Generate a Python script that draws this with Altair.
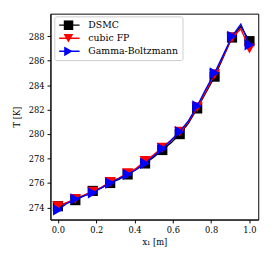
import altair as alt
import pandas as pd

series = ["DSMC", "cubic FP", "Gamma-Boltzmann"]
codes = ["s0", "s1", "s2"]
colors = ["#000000", "#ff0000", "#0000ff"]
shapes = ["square", "triangle-down", "triangle-right"]

x_pos = [0.0, 0.045, 0.091, 0.136, 0.182, 0.227, 0.273, 0.318, 0.364, 0.409, 0.455, 0.5,
         0.545, 0.591, 0.636, 0.682, 0.727, 0.773, 0.818, 0.864, 0.909, 0.955, 1.0]

T_dsmc = [274.1, 274.35, 274.6, 274.95, 275.35, 275.6, 276.0, 276.3, 276.7, 277.1, 277.6, 278.1,
          278.7, 279.3, 280.0, 280.9, 282.1, 283.4, 284.7, 286.3, 287.9, 288.8, 287.6]
T_fp = [274.1, 274.4, 274.7, 275.0, 275.3, 275.65, 276.1, 276.4, 276.8, 277.2, 277.8, 278.3,
        278.9, 279.5, 280.2, 281.0, 282.2, 283.5, 284.9, 286.4, 287.9, 288.6, 287.0]
T_gb = [273.8, 274.3, 274.7, 274.95, 275.2, 275.6, 276.0, 276.35, 276.7, 277.1, 277.6, 278.2,
        278.8, 279.5, 280.2, 281.1, 282.3, 283.7, 285.0, 286.5, 288.0, 289.0, 287.3]

marker_every = 2

rows = []
for name, code, vals in zip(series, codes, [T_dsmc, T_fp, T_gb]):
    for i, (x, t) in enumerate(zip(x_pos, vals)):
        rows.append({"series": name, "code": code, "x": x, "T": t,
                     "marker": i % marker_every == 0})
df = pd.DataFrame(rows)

FONT = "DejaVu Serif"

xs = alt.Scale(domain=[-0.039, 1.046], nice=False, zero=False)
ys = alt.Scale(domain=[273.01, 289.85], nice=False, zero=False)

xaxis = alt.Axis(values=[0.0, 0.2, 0.4, 0.6, 0.8, 1.0], format=".1f", title="x\u2081 [m]",
                 grid=False, tickSize=3.5, labelPadding=3, titlePadding=4)
yaxis = alt.Axis(values=list(range(274, 290, 2)), title="T [K]", grid=False, tickSize=3.5,
                 labelPadding=3, titlePadding=7)

color_scale = alt.Scale(domain=series, range=colors)
fill_scale = alt.Scale(domain=codes, range=colors)
shape_scale = alt.Scale(domain=codes, range=shapes)

line_legend = alt.Legend(orient="none", legendX=4.0, legendY=2.8, title=None,
                         symbolType="stroke", symbolSize=441, symbolStrokeWidth=1.5,
                         labelFont=FONT, labelFontSize=9.6, labelOffset=8, labelColor="black",
                         fillColor="white", strokeColor="#cccccc", cornerRadius=2,
                         padding=4, rowPadding=3.5, clipHeight=10)
marker_legend = alt.Legend(orient="none", legendX=9.5, legendY=2.8, title=None,
                           symbolSize=100, symbolStrokeWidth=0, labelOpacity=0,
                           labelFont=FONT, labelFontSize=9.6, padding=4, rowPadding=3.5,
                           clipHeight=10)

layers = []
for k, name in enumerate(series):
    base = alt.Chart(df).transform_filter(alt.datum.series == name)
    line = base.mark_line(strokeWidth=1.4).encode(
        x=alt.X("x:Q", scale=xs, axis=xaxis),
        y=alt.Y("T:Q", scale=ys, axis=yaxis),
        color=alt.Color("series:N", scale=color_scale,
                        legend=line_legend if k == 0 else None),
        order="x:Q",
    )
    pts = base.transform_filter(alt.datum.marker).mark_point(
        filled=True, size=110 if name == "DSMC" else 135, opacity=1, strokeWidth=0
    ).encode(
        x=alt.X("x:Q", scale=xs, axis=xaxis),
        y=alt.Y("T:Q", scale=ys, axis=yaxis),
        fill=alt.Fill("code:N", scale=fill_scale,
                      legend=marker_legend if k == 0 else None),
        shape=alt.Shape("code:N", scale=shape_scale,
                        legend=marker_legend if k == 0 else None),
    )
    layers += [line, pts]

chart = alt.layer(*layers).properties(
    width=214, height=212,
    background="white",
    autosize=alt.AutoSizeParams(type="none"),
    padding={"left": 43.7, "top": 2, "right": 9, "bottom": 44},
).configure_view(stroke="black", strokeWidth=1).configure_axis(
    labelFont=FONT, labelFontSize=8.5, titleFont=FONT, titleFontSize=8.5,
    titleFontWeight="normal", labelColor="black", titleColor="black",
    tickColor="black", domainColor="black", domainWidth=1, tickWidth=1,
)

chart.save("out.html", embed_options={"renderer": "svg", "actions": False})
